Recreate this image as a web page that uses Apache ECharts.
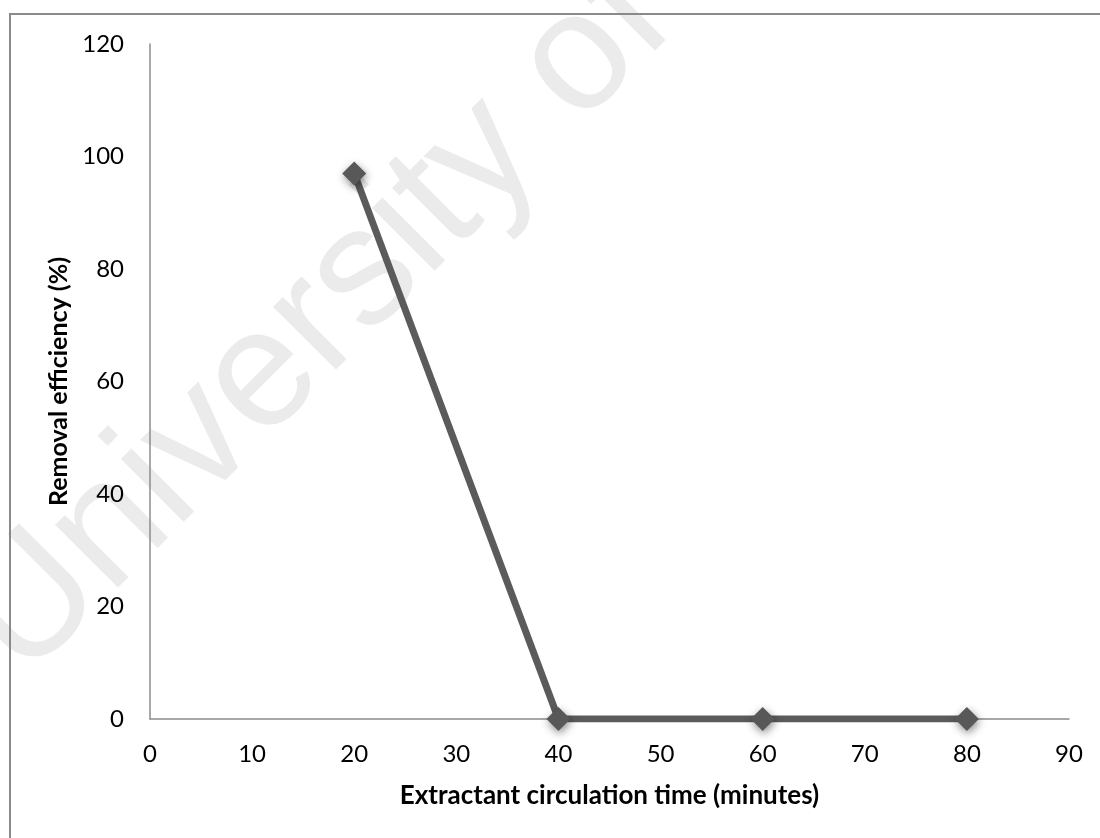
<!DOCTYPE html>
<html>
<head>
<meta charset="utf-8">
<script src="https://cdn.jsdelivr.net/npm/echarts@6/dist/echarts.min.js"></script>
<style>
  html, body { margin: 0; padding: 0; background: #ffffff; }
  #chart { width: 1100px; height: 838px; }
</style>
</head>
<body>
<div id="chart"></div>
<script>
// Extractant circulation time (minutes) and the matching removal efficiency (%)
const circulationTime = [20, 40, 60, 80];
const removalEfficiency = [97, 0, 0, 0];

const xTitle = 'Extractant circulation time (minutes)';
const yTitle = 'Removal efficiency (%)';
const watermarkText = 'University of';

const points = circulationTime.map((t, i) => [t, removalEfficiency[i]]);

const chart = echarts.init(document.getElementById('chart'), null, { renderer: 'canvas' });

const labelFont = { fontFamily: 'Lato', fontSize: 24, color: '#000000' };

chart.setOption({
  backgroundColor: '#ffffff',
  animation: false,
  graphic: [
    {
      type: 'text',
      z: -10,
      silent: true,
      x: 318,
      y: 322,
      rotation: Math.PI / 4,
      style: {
        text: watermarkText,
        font: '168px "Liberation Sans", Arial, sans-serif',
        fill: '#ebebeb',
        textAlign: 'center',
        textVerticalAlign: 'middle'
      }
    },
    {
      type: 'rect',
      z: -5,
      silent: true,
      shape: { x: 10, y: 14, width: 1200, height: 1000 },
      style: { fill: 'transparent', stroke: '#8a8a8a', lineWidth: 2 }
    }
  ],
  grid: { left: 150, right: 31, top: 44, bottom: 119, containLabel: false },
  xAxis: {
    type: 'value',
    min: 0,
    max: 90,
    interval: 10,
    name: xTitle,
    nameLocation: 'middle',
    nameGap: 64,
    nameTextStyle: { fontFamily: 'Lato', fontSize: 26, fontWeight: 'bold', color: '#000000' },
    axisLine: { show: true, onZero: false, lineStyle: { color: '#8c8c8c', width: 1.5 } },
    axisTick: { show: false },
    axisLabel: Object.assign({ margin: 23 }, labelFont),
    splitLine: { show: false }
  },
  yAxis: {
    type: 'value',
    min: 0,
    max: 120,
    interval: 20,
    name: yTitle,
    nameLocation: 'middle',
    nameGap: 76,
    nameTextStyle: { fontFamily: 'Lato', fontSize: 25, fontWeight: 'bold', color: '#000000' },
    axisLine: { show: true, lineStyle: { color: '#8c8c8c', width: 1.5 } },
    axisTick: { show: false },
    axisLabel: Object.assign({ margin: 26 }, labelFont),
    splitLine: { show: false }
  },
  series: [
    {
      type: 'line',
      data: points,
      symbol: 'diamond',
      symbolSize: 24,
      lineStyle: { color: '#5b5b5b', width: 7 },
      itemStyle: {
        color: '#585858',
        shadowBlur: 8,
        shadowColor: 'rgba(0,0,0,0.45)',
        shadowOffsetX: 1,
        shadowOffsetY: 3
      },
      emphasis: { disabled: true }
    }
  ]
});
</script>
</body>
</html>
